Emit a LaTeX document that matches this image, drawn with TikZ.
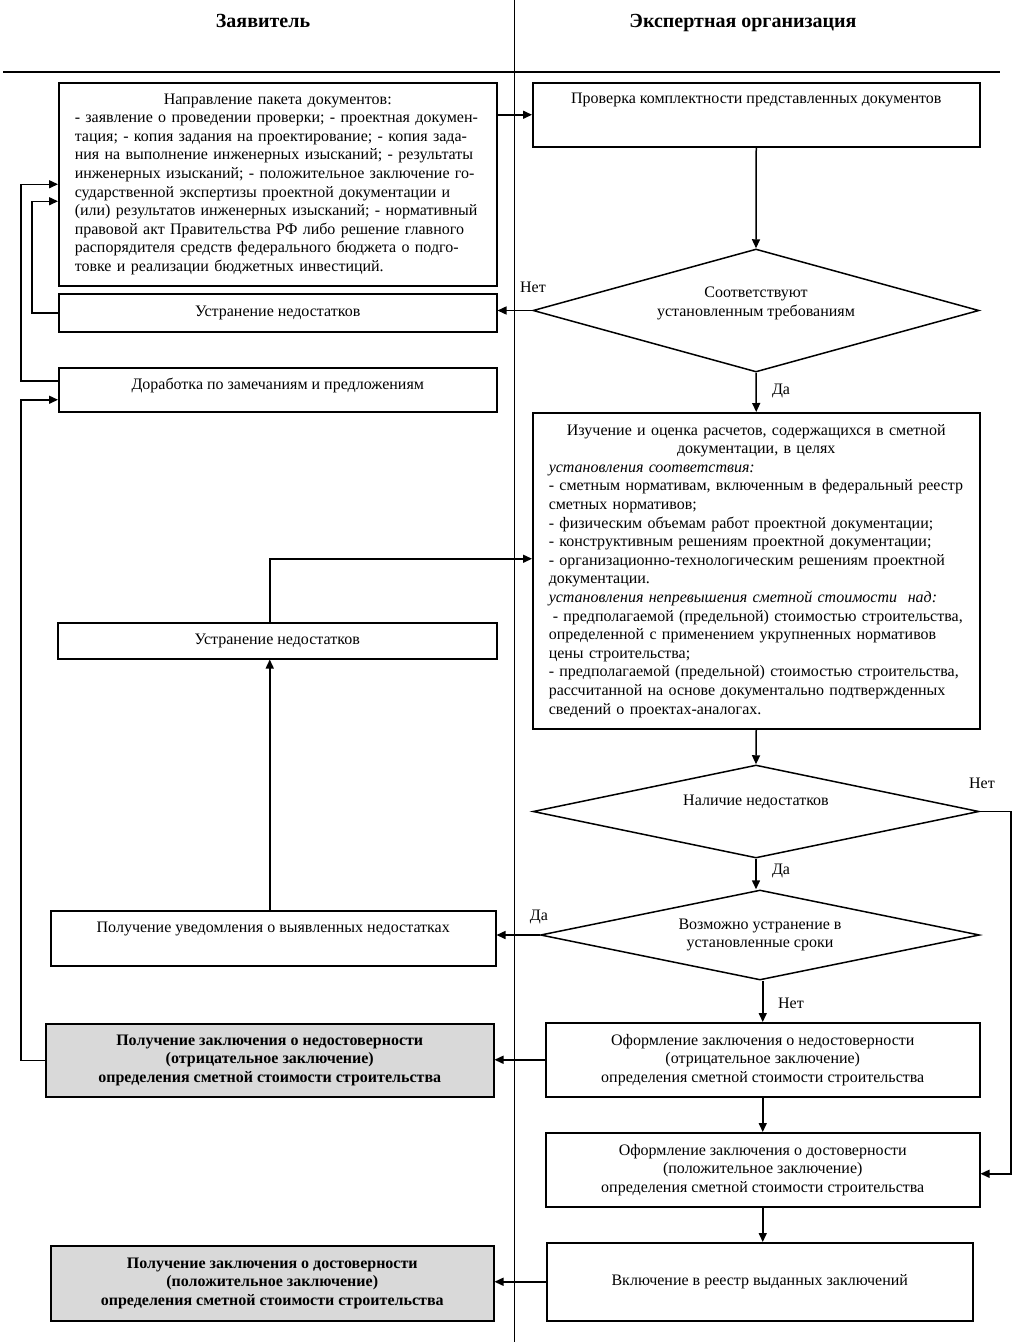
\documentclass[tikz,border=0pt]{standalone}
\usepackage{fontspec}
\setmainfont{Liberation Serif}
\usetikzlibrary{arrows.meta,shapes.geometric}
\definecolor{boxgray}{HTML}{D9D9D9}
\newcommand\fs{\fontsize{16}{18.6}\selectfont}
\newcommand\myline[1]{\mbox{#1}}
\begin{document}
\begin{tikzpicture}[x=1pt,y=-1pt,
  box/.style={draw, line width=1.5pt, rectangle, anchor=north west, inner sep=0pt, align=center, font=\fs},
  graybox/.style={box, fill=boxgray, font=\fs\bfseries},
  dia/.style={draw, line width=1.5pt, diamond, inner sep=0pt},
  txt/.style={font=\fs, align=center, inner sep=0pt},
  arr/.style={line width=1.5pt, -{Triangle[length=9pt,width=8pt]}},
  head/.style={font=\fontsize{20}{24}\selectfont\bfseries, inner sep=0pt, anchor=base}]
\useasboundingbox (0,0) rectangle (1023,1342);
\fill[white] (0,0) rectangle (1023,1342);
% lanes
\draw[line width=0.9pt] (514,0) -- (514,1342);
\draw[line width=1.5pt] (3,72) -- (1000,72);
\node[head] (hl) at (263,27) {Заявитель};
\node[head] (hr) at (743,27) {Экспертная организация};
% left column
\node[box, minimum width=438pt, minimum height=203pt, text width=406pt, inner xsep=16pt, align=left] (b1) at (58,82)
{\makebox[406pt][c]{Направление пакета документов:}\\
\myline{- заявление о проведении проверки; - проектная докумен-}\\
\myline{тация; - копия задания на проектирование; - копия зада-}\\
\myline{ния на выполнение инженерных изысканий; - результаты}\\
\myline{инженерных изысканий; - положительное заключение го-}\\
\myline{сударственной экспертизы проектной документации и}\\
\myline{(или) результатов инженерных изысканий; - нормативный}\\
\myline{правовой акт Правительства РФ либо решение главного}\\
\myline{распорядителя средств федерального бюджета о подго-}\\
\myline{товке и реализации бюджетных инвестиций.}};
\node[box, minimum width=438pt, minimum height=38pt] (b2) at (58,293) {Устранение недостатков};
\node[box, minimum width=438pt, minimum height=44pt,
  label={[txt, anchor=center, yshift=-18pt]north:Доработка по замечаниям и предложениям}] (b3) at (58,367) {};
\node[box, minimum width=439pt, minimum height=36pt] (b4) at (57,622) {Устранение недостатков};
\node[box, minimum width=445pt, minimum height=55pt,
  label={[txt, anchor=center, yshift=-19pt]north:Получение уведомления о выявленных недостатках}] (b5) at (50,910) {};
\node[graybox, minimum width=448pt, minimum height=73pt] (b6) at (45,1023)
{Получение заключения о недостоверности\\(отрицательное заключение)\\определения сметной стоимости строительства};
\node[graybox, minimum width=443pt, minimum height=75pt] (b7) at (50,1245)
{Получение заключения о достоверности\\(положительное заключение)\\определения сметной стоимости строительства};
% right column
\node[box, minimum width=447pt, minimum height=64pt,
  label={[txt, anchor=center, yshift=-18pt]north:Проверка комплектности представленных документов}] (r1) at (532,82) {};
\node[dia, minimum width=446pt, minimum height=123pt] (d1) at (756,310.5) {};
\node[txt] (d1t) at ([yshift=7pt]d1.center) {Соответствуют\\установленным требованиям};
\node[box, minimum width=447pt, minimum height=316pt, text width=415pt, inner xsep=16pt, align=left] (r2) at (532,412)
{\makebox[415pt][c]{Изучение и оценка расчетов, содержащихся в сметной}\\
\makebox[415pt][c]{документации, в целях}\\
\myline{\textit{установления соответствия:}}\\
\myline{- сметным нормативам, включенным в федеральный реестр}\\
\myline{сметных нормативов;}\\
\myline{- физическим объемам работ проектной документации;}\\
\myline{- конструктивным решениям проектной документации;}\\
\myline{- организационно-технологическим решениям проектной}\\
\myline{документации.}\\
\myline{\textit{установления непревышения сметной стоимости\ \ над:}}\\
\myline{\hspace*{4pt}- предполагаемой (предельной) стоимостью строительства,}\\
\myline{определенной с применением укрупненных нормативов}\\
\myline{цены строительства;}\\
\myline{- предполагаемой (предельной) стоимостью строительства,}\\
\myline{рассчитанной на основе документально подтвержденных}\\
\myline{сведений о проектах-аналогах.}};
\node[dia, minimum width=446pt, minimum height=93pt] (d2) at (756,811.5) {};
\node[txt] (d2t) at ([yshift=9.5pt]d2.center) {Наличие недостатков};
\node[dia, minimum width=439pt, minimum height=90pt] (d3) at (760,935) {};
\node[txt] (d3t) at (d3.center) {Возможно устранение в\\установленные сроки};
\node[box, minimum width=434pt, minimum height=74pt] (r3) at (545,1022)
{Оформление заключения о недостоверности\\(отрицательное заключение)\\определения сметной стоимости строительства};
\node[box, minimum width=434pt, minimum height=74pt] (r4) at (545,1132)
{Оформление заключения о достоверности\\(положительное заключение)\\определения сметной стоимости строительства};
\node[box, minimum width=426pt, minimum height=78pt] (r5) at (546,1242) {Включение в реестр выданных заключений};
% connectors
\draw[arr] (b1.east |- r1.west) -- (r1.west);
\draw[arr] (r1.south) -- (d1.north);
\draw[arr] (d1.west) -- (b2.east |- d1.west);
\node[txt] (l1) at (533,287) {Нет};
\draw[arr] (d1.south) -- (r2.north);
\node[txt] (l2) at (781,391) {Да};
\draw[arr] (b2.west) -- ++(-26,0) |- ([yshift=-17pt]b1.west);
\draw[arr] ([yshift=9pt]b3.west) -- ++(-37,0) |- (b1.west);
\draw[arr] (b6.west) -- ++(-24,0) |- ([yshift=-10pt]b3.west);
\draw[arr] ([xshift=-7.5pt]b4.north) |- ([yshift=12pt]r2.west);
\draw[arr] ([xshift=-3.5pt]b5.north) -- ([xshift=-3.5pt]b5.north |- b4.south);
\draw[arr] (r2.south) -- (d2.north);
\draw[arr] (d2.south) -- (d2.south |- d3.north);
\node[txt] (l3) at (781,871) {Да};
\draw[arr] (d2.east) -- ++(31,0) |- ([yshift=-4pt]r4.east);
\node[txt] (l4) at (982,783) {Нет};
\draw[arr] (d3.west) -- (b5.east |- d3.west);
\node[txt] (l5) at (539,917) {Да};
\draw[arr] (r3.north |- d3.south) -- (r3.north);
\node[txt] (l6) at (791,1003) {Нет};
\draw[arr] (r3.west) -- (b6.east |- r3.west);
\draw[arr] (r3.south) -- (r4.north);
\draw[arr] (r4.south) -- (r4.south |- r5.north);
\draw[arr] (r5.west) -- (b7.east |- r5.west);
\end{tikzpicture}
\end{document}
